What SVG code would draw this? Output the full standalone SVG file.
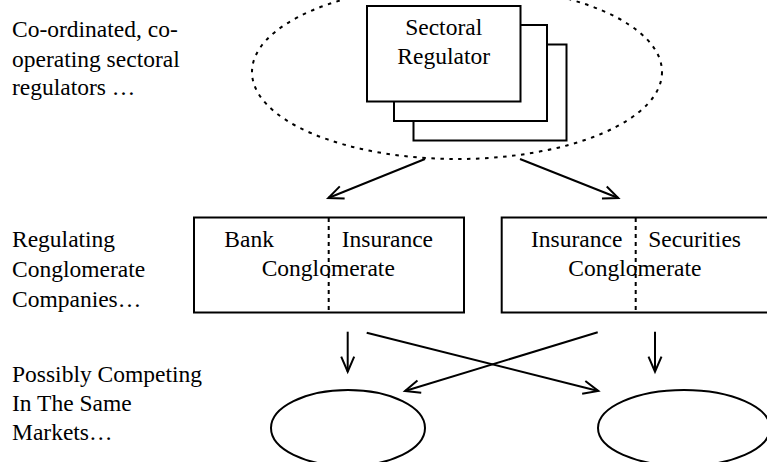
<svg xmlns="http://www.w3.org/2000/svg" width="767" height="462" viewBox="0 0 767 462">
<style>
  text { font-size: 23.5px; fill: #000; }
  .box { fill: #fff; stroke: #000; stroke-width: 2; }
  .div { stroke: #000; stroke-width: 2; stroke-dasharray: 4 4; fill: none; }
  .dot { fill: none; stroke: #000; stroke-width: 2; stroke-dasharray: 3.5 5.5; }
  .ell { fill: none; stroke: #000; stroke-width: 2; }
  .conn { stroke: #000; stroke-width: 2; fill: none; marker-end: url(#arr); }
  .mid { text-anchor: middle; }
</style>
<defs>
  <marker id="arr" markerUnits="userSpaceOnUse" markerWidth="20" markerHeight="16" viewBox="0 0 20 16" refX="16" refY="8" orient="auto">
    <path d="M1,1.5 L16,8 L1,14.5" fill="none" stroke="#000" stroke-width="2"/>
  </marker>
</defs>
<rect width="767" height="462" fill="#fff"/>

<g font-family="Liberation Serif, DejaVu Serif, serif">
<g id="labels">
  <text x="12" y="37">Co-ordinated, co-</text>
  <text x="12" y="66.5">operating sectoral</text>
  <text x="12" y="95">regulators …</text>
  <text x="12" y="246.5">Regulating</text>
  <text x="12" y="276.5">Conglomerate</text>
  <text x="12" y="307">Companies…</text>
  <text x="12" y="381.5">Possibly Competing</text>
  <text x="12" y="410.5">In The Same</text>
  <text x="12" y="440">Markets…</text>
</g>

<g id="regulators">
  <ellipse class="dot" cx="457" cy="72" rx="205" ry="87"/>
  <rect class="box" x="413.5" y="44.5" width="153" height="96"/>
  <rect class="box" x="394" y="25" width="153" height="96"/>
  <rect class="box" x="367" y="6" width="153.5" height="95.5"/>
  <text class="mid" x="443.7" y="35">Sectoral</text>
  <text class="mid" x="443.7" y="63.5">Regulator</text>
</g>

<g id="bank-insurance">
  <rect class="box" x="194" y="217.5" width="270" height="95"/>
  <line class="div" x1="328.7" y1="218" x2="328.7" y2="312"/>
  <text x="224.3" y="246.7">Bank</text>
  <text x="341.7" y="246.7">Insurance</text>
  <text x="261.7" y="276">Conglomerate</text>
</g>

<g id="insurance-securities">
  <rect class="box" x="501.7" y="217.5" width="272" height="95"/>
  <line class="div" x1="635.7" y1="218" x2="635.7" y2="312"/>
  <text x="531" y="246.7">Insurance</text>
  <text x="648.3" y="246.7">Securities</text>
  <text x="568.3" y="276">Conglomerate</text>
</g>

<g id="market-1">
  <ellipse class="ell" cx="348" cy="428" rx="77" ry="38"/>
</g>
<g id="market-2">
  <ellipse class="ell" cx="684" cy="428" rx="86" ry="38"/>
</g>
</g>

<g id="connectors">
  <line class="conn" x1="425" y1="159" x2="328.3" y2="198"/>
  <line class="conn" x1="520" y1="159" x2="618.3" y2="198"/>
  <line class="conn" x1="347.7" y1="331.7" x2="347.7" y2="371.7"/>
  <line class="conn" x1="655" y1="331.7" x2="655" y2="371.7"/>
  <line class="conn" x1="366.7" y1="332.7" x2="598.3" y2="391"/>
  <line class="conn" x1="597.7" y1="332.3" x2="405" y2="391"/>
</g>
</svg>
